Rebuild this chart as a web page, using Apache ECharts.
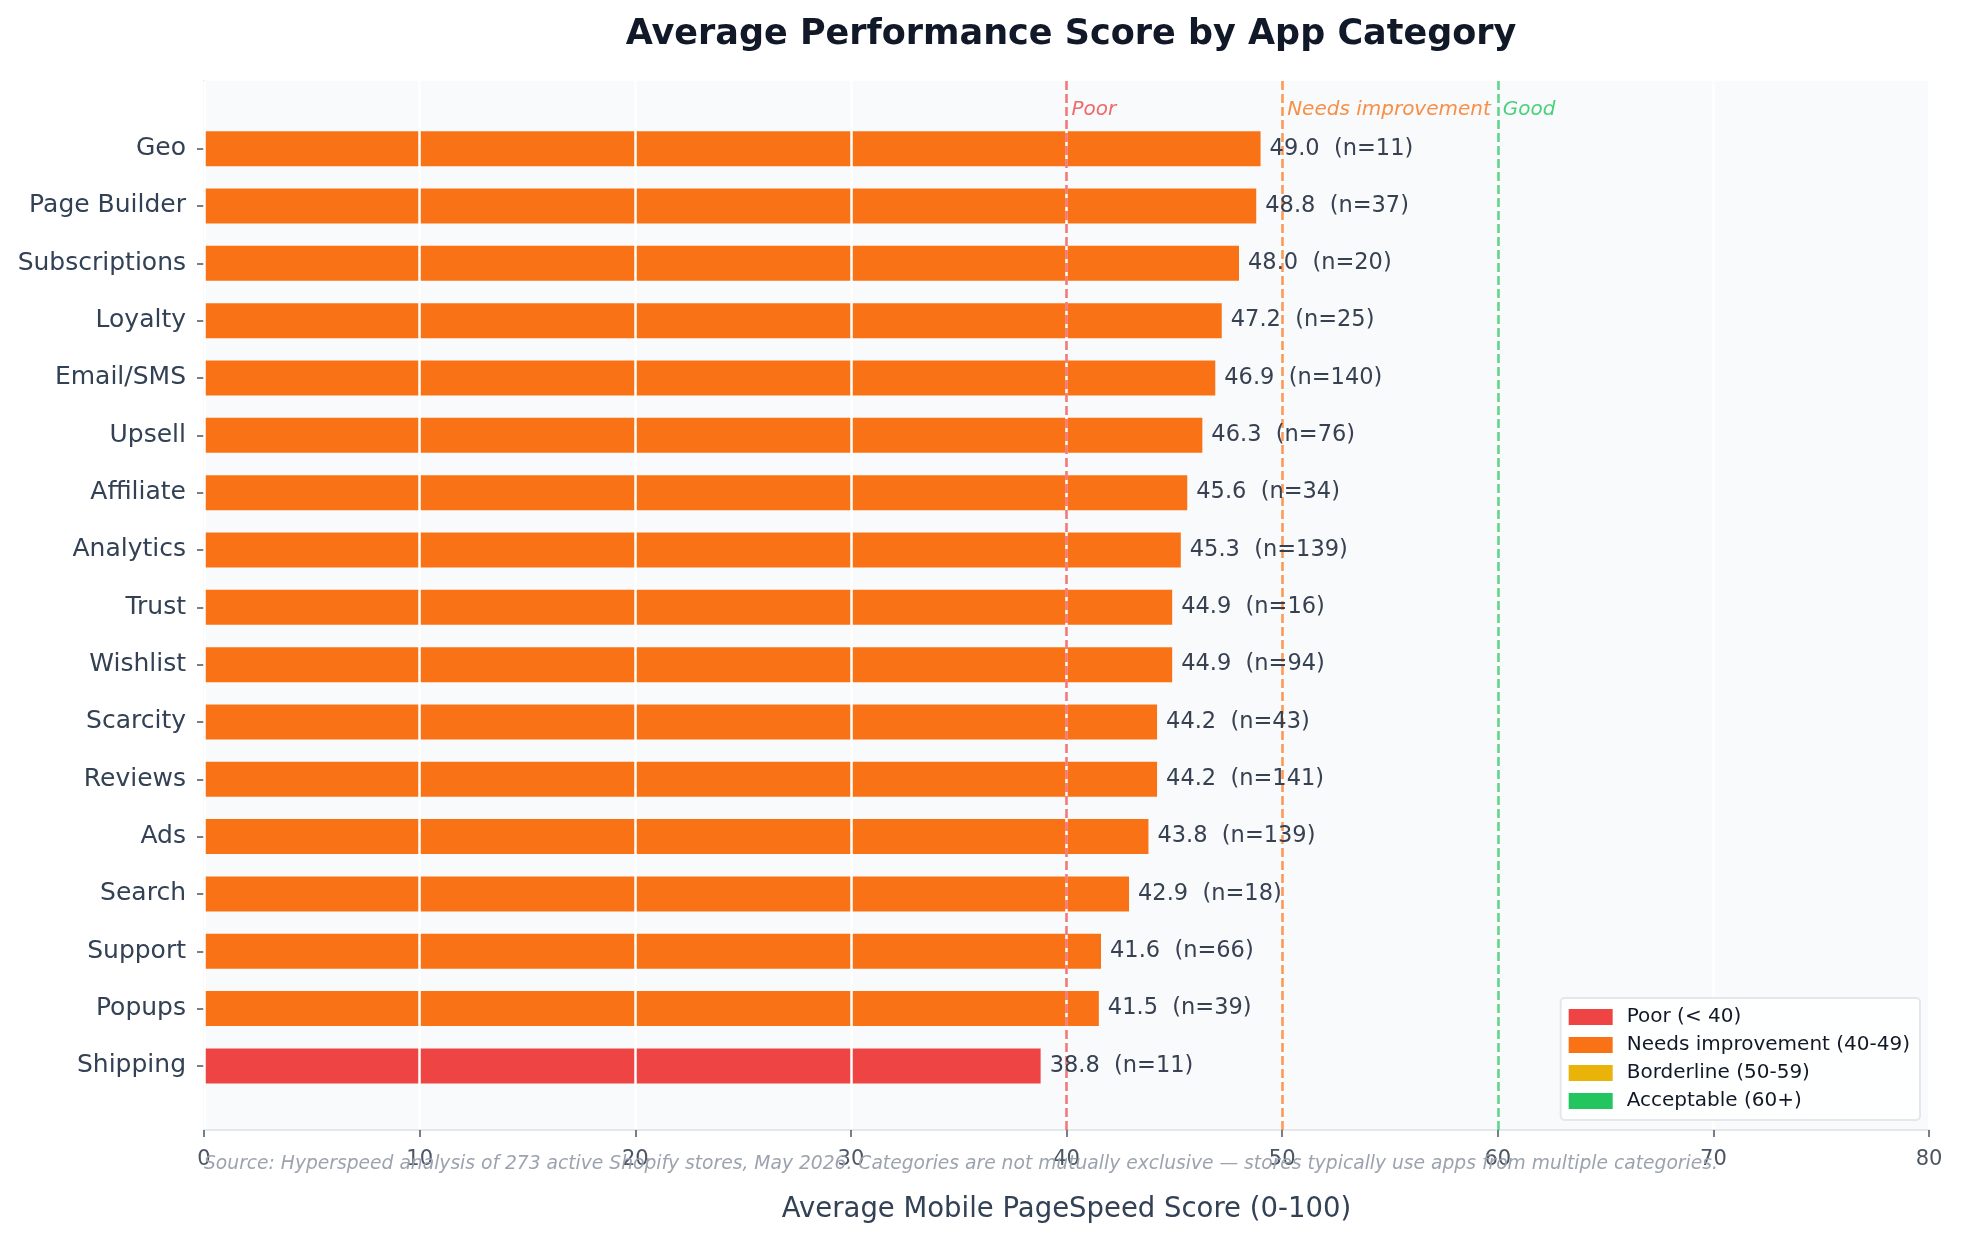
<!DOCTYPE html>
<html>
<head>
<meta charset="utf-8">
<script src="https://cdn.jsdelivr.net/npm/echarts@6/dist/echarts.min.js"></script>
<style>
  html, body { margin: 0; padding: 0; background: #fff; }
  #chart { width: 1962px; height: 1242px; }
</style>
</head>
<body>
<div id="chart"></div>
<script>
// values
const categories = ['Geo', 'Page Builder', 'Subscriptions', 'Loyalty', 'Email/SMS', 'Upsell',
  'Affiliate', 'Analytics', 'Trust', 'Wishlist', 'Scarcity', 'Reviews', 'Ads', 'Search',
  'Support', 'Popups', 'Shipping'];
const scores = [49.0, 48.8, 48.0, 47.2, 46.9, 46.3, 45.6, 45.3, 44.9, 44.9, 44.2, 44.2, 43.8,
  42.9, 41.6, 41.5, 38.8];
const counts = [11, 37, 20, 25, 140, 76, 34, 139, 16, 94, 43, 141, 139, 18, 66, 39, 11];
const xTicks = [0, 10, 20, 30, 40, 50, 60, 70, 80];
const thresholds = [40, 50, 60];
const thresholdNames = ['Poor', 'Needs improvement', 'Good'];

const FONT = 'DejaVu Sans';
const bands = [
  { name: 'Poor (< 40)', color: '#ef4444', test: v => v < 40 },
  { name: 'Needs improvement (40-49)', color: '#f97316', test: v => v >= 40 && v < 50 },
  { name: 'Borderline (50-59)', color: '#eab308', test: v => v >= 50 && v < 60 },
  { name: 'Acceptable (60+)', color: '#22c55e', test: v => v >= 60 },
];
const lineColors = ['rgba(239,68,68,0.72)', 'rgba(249,115,22,0.72)', 'rgba(34,197,94,0.72)'];
const textColors = ['#ef4444', '#f97316', '#22c55e'];

const chart = echarts.init(document.getElementById('chart'));

const barSeries = bands.map(b => ({
  name: b.name,
  type: 'bar',
  xAxisIndex: 1,
  yAxisIndex: 1,
  barWidth: 35,
  barGap: '-100%',
  z: 2,
  itemStyle: { color: b.color },
  data: scores.map(v => (b.test(v) ? v : null)),
}));

// invisible copy of the bars that carries the value labels above the threshold lines
const labelSeries = {
  name: 'labels',
  type: 'bar',
  xAxisIndex: 1,
  yAxisIndex: 1,
  barWidth: 35,
  barGap: '-100%',
  z: 20,
  silent: true,
  itemStyle: { color: 'rgba(0,0,0,0)' },
  data: scores,
  label: {
    show: true,
    position: 'right',
    distance: 9,
    fontFamily: FONT,
    fontSize: 22.5,
    color: '#374151',
    formatter: p => `${p.value.toFixed(1)}  (n=${counts[p.dataIndex]})`,
  },
};

// threshold lines and their labels live on the full-height background grid
const refSeries = {
  type: 'scatter',
  xAxisIndex: 0,
  yAxisIndex: 0,
  z: 10,
  symbolSize: 0,
  silent: true,
  data: thresholds.map((t, i) => ({
    value: [t, 0.973],
    label: {
      show: true,
      position: 'right',
      distance: 5,
      formatter: thresholdNames[i],
      fontFamily: FONT,
      fontStyle: 'italic',
      fontSize: 20,
      color: textColors[i],
    },
  })),
  markLine: {
    silent: true,
    symbol: 'none',
    label: { show: false },
    data: thresholds.map((t, i) => ({
      xAxis: t,
      lineStyle: { color: lineColors[i], type: [9, 4], width: 2.6 },
    })),
  },
};

chart.setOption({
  animation: false,
  backgroundColor: '#ffffff',
  title: [{
    text: 'Average Performance Score by App Category',
    left: 1066,
    textAlign: 'center',
    top: 12,
    textStyle: { fontFamily: FONT, fontWeight: 'bold', fontSize: 35, color: '#111827' },
  }, {
    text: 'Source: Hyperspeed analysis of 273 active Shopify stores, May 2026. Categories are not mutually exclusive \u2014 stores typically use apps from multiple categories.',
    left: 199,
    top: 1150,
    textStyle: { fontFamily: FONT, fontStyle: 'italic', fontWeight: 'normal', fontSize: 18.7, color: '#9ca3af' },
  }],
  legend: {
    orient: 'vertical',
    right: 42,
    bottom: 122,
    padding: [9, 10, 9, 8],
    itemWidth: 44,
    itemHeight: 16,
    itemGap: 8,
    icon: 'rect',
    backgroundColor: 'rgba(255,255,255,0.85)',
    borderColor: '#e5e7eb',
    borderWidth: 2,
    borderRadius: 4,
    data: bands.map(b => b.name),
    textStyle: { fontFamily: FONT, fontSize: 20, color: '#111827', padding: [0, 0, 0, 9] },
  },
  grid: [
    { left: 204, right: 33, top: 81, bottom: 112, show: true, backgroundColor: '#f8fafc', borderWidth: 0 },
    { left: 204, right: 33, top: 120, bottom: 147.4 },
  ],
  xAxis: [{
    gridIndex: 0,
    type: 'value',
    min: xTicks[0],
    max: xTicks[xTicks.length - 1],
    interval: 10,
    z: 3,
    name: 'Average Mobile PageSpeed Score (0-100)',
    nameLocation: 'middle',
    nameGap: 66,
    nameTextStyle: { fontFamily: FONT, fontSize: 27.5, color: '#334155' },
    axisLine: { show: true, lineStyle: { color: '#e5e7eb', width: 2 } },
    axisTick: { show: true, length: 7, lineStyle: { color: '#4b5563', width: 1.5 } },
    axisLabel: { margin: 19, fontFamily: FONT, fontSize: 21, color: '#4b5563' },
    splitLine: { show: true, lineStyle: { color: '#ffffff', width: 2.5 } },
  }, {
    gridIndex: 1,
    type: 'value',
    min: xTicks[0],
    max: xTicks[xTicks.length - 1],
    show: false,
  }],
  yAxis: [{
    gridIndex: 0,
    type: 'value',
    min: 0,
    max: 1,
    axisLine: { show: true, lineStyle: { color: '#e5e7eb', width: 2 } },
    axisTick: { show: false },
    axisLabel: { show: false },
    splitLine: { show: false },
  }, {
    gridIndex: 1,
    type: 'category',
    inverse: true,
    data: categories,
    axisLine: { show: false },
    axisTick: { show: true, alignWithLabel: true, length: 7, lineStyle: { color: '#4b5563', width: 1.5 } },
    axisLabel: { margin: 18, fontFamily: FONT, fontSize: 25, color: '#334155' },
    splitLine: { show: false },
  }],
  series: [...barSeries, labelSeries, refSeries],
});
</script>
</body>
</html>
